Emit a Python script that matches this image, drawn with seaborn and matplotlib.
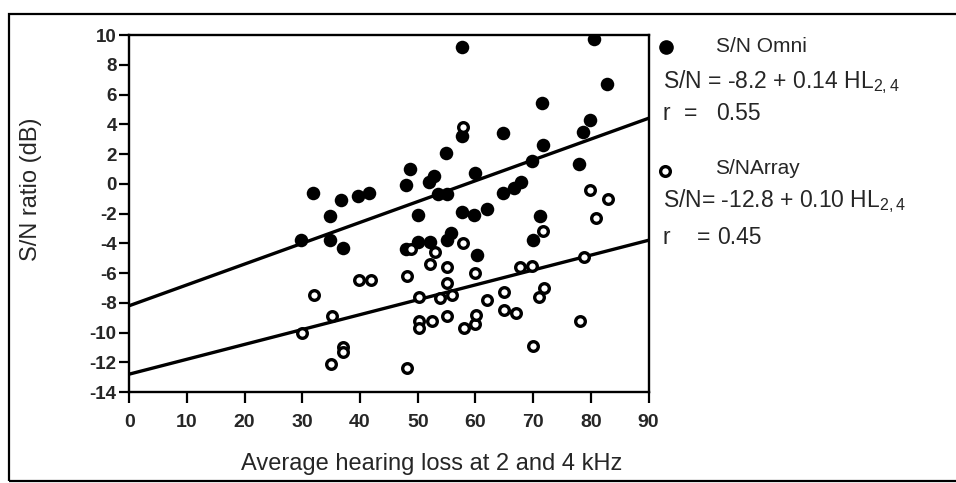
import numpy as np
import pandas as pd
import matplotlib
matplotlib.use("Agg")
import matplotlib.pyplot as plt
import matplotlib.patches as patches
import seaborn as sns

# hearing loss (dB) and S/N ratio, omni microphone (filled dots)
omni_hl = [29.7, 31.8, 34.8, 34.8, 36.7, 37.0, 39.6, 41.6, 47.9, 48.0, 48.7, 50.1, 50.1,
           51.9, 52.1, 52.8, 53.6, 54.9, 55.0, 55.1, 55.8, 57.6, 57.6, 57.7, 59.7, 59.9,
           60.3, 62.0, 64.7, 64.8, 66.7, 67.9, 69.8, 69.9, 71.2, 71.6, 71.8, 77.9, 78.6,
           79.9, 80.6, 82.8]
omni_sn = [-3.8, -0.6, -2.2, -3.8, -1.1, -4.3, -0.8, -0.6, -4.4, -0.1, 1.0, -2.1, -3.9,
           0.1, -3.9, 0.5, -0.7, 2.1, -3.8, -0.7, -3.3, 9.2, 3.2, -1.9, -2.1, 0.7,
           -4.8, -1.7, 3.4, -0.6, -0.3, 0.1, 1.5, -3.8, -2.2, 5.4, 2.6, 1.3, 3.5,
           4.3, 9.7, 6.7]

# array microphone (open circles)
array_hl = [30.0, 32.1, 35.0, 35.1, 37.1, 37.1, 39.9, 41.9, 48.1, 48.1, 48.8, 50.3, 50.3,
            50.3, 52.2, 52.4, 53.0, 53.8, 55.0, 55.0, 55.1, 55.9, 57.8, 57.8, 58.0, 59.9,
            59.9, 60.1, 62.0, 65.0, 65.0, 67.1, 67.8, 69.8, 70.0, 71.0, 71.7, 71.9, 78.1,
            78.8, 79.9, 80.9, 82.9]
array_sn = [-10.0, -7.5, -12.1, -8.9, -11.0, -11.3, -6.5, -6.5, -6.2, -12.4, -4.4, -7.6, -9.2,
            -9.7, -5.4, -9.2, -4.6, -7.7, -5.6, -6.7, -8.9, -7.5, 3.8, -4.0, -9.7, -6.0,
            -9.4, -8.8, -7.8, -7.3, -8.5, -8.7, -5.6, -5.5, -10.9, -7.6, -3.2, -7.0, -9.2,
            -4.9, -0.4, -2.3, -1.0]

# regression lines from the legend (intercept, slope)
omni_fit = (-8.2, 0.14)
array_fit = (-12.8, 0.10)

x_ticks = list(range(0, 91, 10))
y_ticks = list(range(-14, 11, 2))

sns.set_style("ticks")
plt.rcParams["font.family"] = ["Liberation Sans", "DejaVu Sans"]
plt.rcParams["axes.unicode_minus"] = False
plt.rcParams["mathtext.default"] = "regular"

W, H = 956, 483
fig = plt.figure(figsize=(W / 100, H / 100), dpi=100)
ax = fig.add_axes([129.2 / W, 1 - 392 / H, 519.3 / W, 357 / H])

omni = pd.DataFrame({"hl": omni_hl, "sn": omni_sn})
arr = pd.DataFrame({"hl": array_hl, "sn": array_sn})

fit_x = np.array([0, 90])
fits = pd.DataFrame({
    "hl": np.concatenate([fit_x, fit_x]),
    "sn": np.concatenate([omni_fit[0] + omni_fit[1] * fit_x,
                          array_fit[0] + array_fit[1] * fit_x]),
    "mic": ["omni", "omni", "array", "array"],
})
sns.lineplot(data=fits, x="hl", y="sn", units="mic", estimator=None, color="black",
             linewidth=2.4, ax=ax, zorder=2)

sns.scatterplot(data=omni, x="hl", y="sn", s=95, color="black", edgecolor="black",
                linewidth=0, ax=ax, zorder=3)
sns.scatterplot(data=arr, x="hl", y="sn", s=48, facecolor="white", edgecolor="black",
                linewidth=2.4, ax=ax, zorder=4)

ax.set_xlim(0, 90)
ax.set_ylim(-14, 10)
ax.set_xticks(x_ticks)
ax.set_yticks(y_ticks)
ax.set_xticklabels([str(v) for v in x_ticks], fontsize=14, fontweight="bold")
ax.set_yticklabels([str(v) for v in y_ticks], fontsize=13.5, fontweight="bold")
ax.tick_params(axis="x", direction="out", length=8, width=1.6, pad=8, color="black")
ax.tick_params(axis="y", direction="out", length=7, width=1.6, pad=2, color="black")
for sp in ax.spines.values():
    sp.set_linewidth(1.7)
    sp.set_color("black")

ax.set_xlabel("Average hearing loss at 2 and 4 kHz", fontsize=17)
ax.xaxis.set_label_coords(0.583, -0.2017)
ax.xaxis.label.set_va("center")
ax.set_ylabel("S/N ratio (dB)", fontsize=17)
ax.yaxis.set_label_coords(-0.189, 0.569)
ax.yaxis.label.set_va("center")

# legend block on the right
fs = 16.5
ax.plot([665.7 / W], [1 - 47.3 / H], "o", ms=9.5, color="black",
        transform=fig.transFigure, clip_on=False)
fig.text(716 / W, 1 - 46 / H, "S/N Omni", fontsize=15, va="center")
fig.text(663 / W, 1 - 82 / H, "S/N = -8.2 + 0.14 HL$_{2,4}$", fontsize=fs, va="center")
fig.text(663 / W, 1 - 113 / H, "r", fontsize=fs, va="center")
fig.text(684 / W, 1 - 113 / H, "=", fontsize=fs, va="center")
fig.text(716 / W, 1 - 113 / H, "0.55", fontsize=fs, va="center")

ax.plot([665 / W], [1 - 170.7 / H], "o", ms=7, mfc="white", mec="black", mew=2.4,
        transform=fig.transFigure, clip_on=False)
fig.text(715 / W, 1 - 169 / H, "S/NArray", fontsize=15, va="center")
fig.text(663 / W, 1 - 201.5 / H, "S/N= -12.8 + 0.10 HL$_{2,4}$", fontsize=fs, va="center")
fig.text(663 / W, 1 - 238 / H, "r", fontsize=fs, va="center")
fig.text(697 / W, 1 - 238 / H, "=", fontsize=fs, va="center")
fig.text(717 / W, 1 - 238 / H, "0.45", fontsize=fs, va="center")

# outer frame of the figure panel
fig.add_artist(patches.Rectangle((9 / W, 2 / H), 1.0, 1 - 16 / H,
                                 transform=fig.transFigure, fill=False,
                                 edgecolor="black", linewidth=1.6))

fig.savefig("out.png", dpi=100)
